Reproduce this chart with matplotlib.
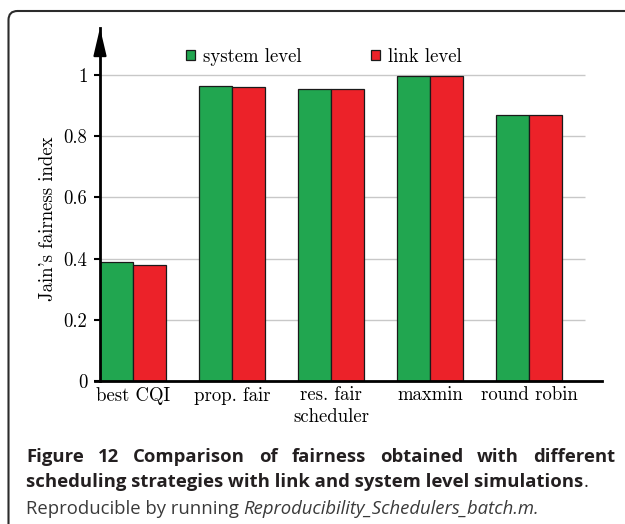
import matplotlib
matplotlib.use("Agg")
import matplotlib.pyplot as plt
from matplotlib.patches import FancyBboxPatch, Patch
import numpy as np

# values
schedulers = ['best CQI', 'prop. fair', 'res. fair\nscheduler', 'maxmin', 'round robin']
system_level = [0.388, 0.965, 0.953, 0.997, 0.870]
link_level = [0.380, 0.960, 0.953, 0.998, 0.868]
y_ticks = [0, 0.2, 0.4, 0.6, 0.8, 1]
y_tick_labels = ['0', '0.2', '0.4', '0.6', '0.8', '1']

green = '#21a650'
red = '#ec2229'
fs = 13.5

plt.rcParams['font.family'] = 'cmr10'
plt.rcParams['axes.formatter.use_mathtext'] = True

fig = plt.figure(figsize=(6.25, 5.24), dpi=100)
ax = fig.add_axes([0.16, 0.2729, 0.8032, 0.6737])

w = 1 / 3
x = np.arange(len(schedulers))
ax.hlines(y_ticks[1:], -w, 4.566, color='#c8c8c8', lw=1.0, zorder=0)
ax.bar(x - w / 2, system_level, w, color=green, edgecolor='#1a1a1a', lw=0.9, zorder=2)
ax.bar(x + w / 2, link_level, w, color=red, edgecolor='#1a1a1a', lw=0.9, zorder=2)

ax.set_xlim(-w, 4.737)
ax.set_ylim(0, 1.1536)
ax.set_yticks(y_ticks)
ax.set_yticklabels(y_tick_labels, fontsize=fs)
ax.set_xticks(x)
ax.set_xticklabels(schedulers, fontsize=fs, linespacing=1.25)
ax.tick_params(axis='x', length=0, pad=4)
ax.tick_params(axis='y', length=4, width=1.5, pad=5, direction='out')

for s in ['top', 'right']:
    ax.spines[s].set_visible(False)
ax.spines['left'].set_linewidth(2)
ax.spines['bottom'].set_linewidth(2)
ax.spines['bottom'].set_bounds(-w - 0.05, 4.737)

# arrow at the top of the y axis
ax.annotate('', xy=(0, 1.0), xycoords='axes fraction', xytext=(0, 0.93),
            arrowprops=dict(arrowstyle='-|>,head_length=1.7,head_width=0.4',
                            color='black', lw=1.5, mutation_scale=10,
                            shrinkA=0, shrinkB=0))

ax.set_ylabel("Jain's fairness index", fontsize=fs)
ax.yaxis.set_label_coords(-0.085, 0.459)

handles = [Patch(facecolor=green, edgecolor='#1a1a1a', lw=0.9),
           Patch(facecolor=red, edgecolor='#1a1a1a', lw=0.9)]
ax.legend(handles, ['system level', 'link level'], ncol=2, frameon=False,
          loc='center', bbox_to_anchor=(0.446, 0.918), fontsize=fs,
          handlelength=0.47, handleheight=0.47, handletextpad=0.45,
          columnspacing=3.7, borderpad=0)

# rounded frame around figure + caption
frame = FancyBboxPatch((0.085, -0.3), 6.5, 5.43,
                       boxstyle='round,pad=0,rounding_size=0.09',
                       transform=fig.dpi_scale_trans, fill=False,
                       edgecolor='#2b2b2b', lw=1.5)
fig.patches.append(frame)

# caption (line 1 is justified, the others are natural width)
cap_color = '#231f20'
cap_font = 'Open Sans'
x0 = 26
W, H = 625, 524
line1 = 'Figure 12 Comparison of fairness obtained with different'
line2 = 'scheduling strategies with link and system level simulations'

r = fig.canvas.get_renderer()
t2 = fig.text(x0 / W, 1 - 487 / H, line2, family=cap_font, weight='bold',
              fontsize=12, color=cap_color, va='baseline')
bold_size = 12 * 554 / t2.get_window_extent(r).width
t2.set_fontsize(bold_size)
e2 = t2.get_window_extent(r)
fig.text(e2.x1 / W, 1 - 487 / H, '.', family=cap_font, fontsize=bold_size,
         color=cap_color, va='baseline')

words = [fig.text(0, 1 - 462 / H, wd, family=cap_font, weight='bold',
                  fontsize=bold_size, color=cap_color, va='baseline')
         for wd in line1.split(' ')]
widths = [t.get_window_extent(r).width for t in words]
gap = (615 - x0 - sum(widths)) / (len(words) - 1)
pos = x0
for t, wd in zip(words, widths):
    t.set_x(pos / W)
    pos += wd + gap

t3 = fig.text(x0 / W, 1 - 514 / H, 'Reproducible by running ',
              family=cap_font, fontsize=11, color='#3a3a3a', va='baseline')
t4 = fig.text(x0 / W, 1 - 514 / H, 'Reproducibility_Schedulers_batch.m.',
              family=cap_font, style='italic', fontsize=11, color='#3a3a3a', va='baseline')
w34 = t3.get_window_extent(r).width + t4.get_window_extent(r).width
reg_size = 11 * 514 / w34
t3.set_fontsize(reg_size)
t4.set_fontsize(reg_size)
t4.set_x(t3.get_window_extent(r).x1 / W)

fig.savefig('out.png', dpi=100)
